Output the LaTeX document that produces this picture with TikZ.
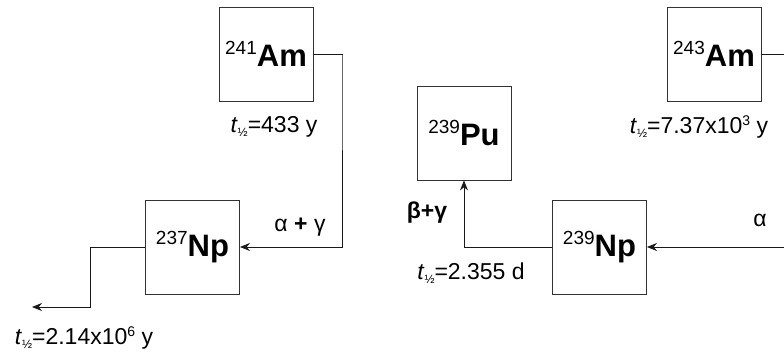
\documentclass[tikz,border=0pt]{standalone}
\usepackage{fontspec}
\setmainfont{Liberation Sans}
\usetikzlibrary{arrows.meta}

\newcommand{\nucl}[2]{\raisebox{12pt}{\fontsize{19}{19}\selectfont #1}{\fontsize{31}{31}\selectfont\bfseries #2}}
\newcommand{\thalf}{\textit{t}\raisebox{-4pt}{\fontsize{12}{12}\selectfont ½}}
\newcommand{\pw}[1]{\raisebox{8pt}{\fontsize{14}{14}\selectfont #1}}

\begin{document}
\begin{tikzpicture}[x=1pt,y=-1pt]
		\tikzstyle{every node}+=[inner sep=0pt]
		\tikzstyle{nuclide}=[draw=black!80, line width=0.9pt, minimum size=94pt]
		\tikzstyle{decay}=[draw=black!90, line width=0.9pt, -{Stealth[length=10pt,width=8pt]}]
		\tikzstyle{lbl}=[font=\fontsize{23}{23}\selectfont]
		\useasboundingbox (0,0) rectangle (784,354);
		% left chain
		\node [nuclide] (am241) at (266,54) {\nucl{241}{Am}};
		\node [nuclide] (np237) at (192.5,247) {\nucl{237}{Np}};
		\node [lbl] (th241) at (274,127) {\thalf=433 y};
		\node [lbl] (ag241) at (300,227) {α \textbf{+} γ};
		\node [lbl] (th237) at (84,338) {\thalf=2.14x10\pw{6} y};
		\coordinate (k1) at (342,55);
		\coordinate (k2) at (90,307);
		\coordinate (out1) at (32,307);
		\draw [decay] (am241.east) -| (k1) |- (np237.east);
		\draw [decay] (np237.west) -| (k2) -- (out1);
		% right chain
		\node [nuclide] (am243) at (714,54) {\nucl{243}{Am}};
		\node [nuclide] (pu239) at (464,133) {\nucl{239}{Pu}};
		\node [nuclide] (np239) at (599.5,247) {\nucl{239}{Np}};
		\node [lbl] (th243) at (699,127) {\thalf=7.37x10\pw{3} y};
		\node [lbl] (a243) at (760,220) {α};
		\node [lbl] (bg239) at (427,213) {\textbf{β+γ}};
		\node [lbl] (th239) at (471,273) {\thalf=2.355 d};
		\coordinate (edge1) at (784,55);
		\coordinate (edge2) at (784,247);
		\draw [draw=black!90, line width=0.9pt] (am243.east) -- (am243.east -| edge1);
		\draw [decay] (edge2) -- (np239.east);
		\draw [decay] (np239.west) -| (pu239.south);
	\end{tikzpicture}
\end{document}
